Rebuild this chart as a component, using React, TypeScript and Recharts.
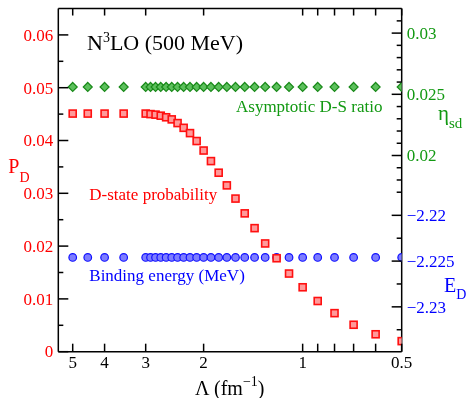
import { ScatterChart, Scatter, XAxis, YAxis } from 'recharts';

const RED = '#ff0000';
const GREEN = '#129912';
const BLUE = '#0000ff';
const SERIF = '"Liberation Serif", "Times New Roman", serif';

// cutoff values (fm^-1)
const lambdas = [
  5, 4.5, 4, 3.5, 3.0, 2.9, 2.8, 2.7, 2.6, 2.5, 2.4, 2.3, 2.2, 2.1, 2.0,
  1.9, 1.8, 1.7, 1.6, 1.5, 1.4, 1.3, 1.2, 1.1, 1.0, 0.9, 0.8, 0.7, 0.6, 0.5,
];
// D-state probability
const pdValues = [
  0.0451, 0.0451, 0.0451, 0.0451, 0.0451, 0.0450, 0.0449, 0.0447, 0.0444, 0.0440,
  0.0433, 0.0424, 0.0414, 0.0399, 0.0381, 0.0361, 0.0339, 0.0315, 0.0290, 0.0262,
  0.0234, 0.0205, 0.0177, 0.0148, 0.0122, 0.0096, 0.0073, 0.0051, 0.0033, 0.0020,
];
// asymptotic D/S ratio
const etaValues = [
  0.0256, 0.0256, 0.0256, 0.0256, 0.0256, 0.0256, 0.0256, 0.0256, 0.0256, 0.0256,
  0.0256, 0.0256, 0.0256, 0.0256, 0.0256, 0.0256, 0.0256, 0.0256, 0.0256, 0.0256,
  0.0256, 0.0256, 0.0256, 0.0256, 0.0256, 0.0256, 0.0256, 0.0256, 0.0256, 0.0256,
];
// binding energy (MeV)
const edValues = [
  -2.2246, -2.2246, -2.2246, -2.2246, -2.2246, -2.2246, -2.2246, -2.2246, -2.2246, -2.2246,
  -2.2246, -2.2246, -2.2246, -2.2246, -2.2246, -2.2246, -2.2246, -2.2246, -2.2246, -2.2246,
  -2.2246, -2.2246, -2.2246, -2.2246, -2.2246, -2.2246, -2.2246, -2.2246, -2.2246, -2.2246,
];

const xTicks = [5, 4, 3, 2, 1, 0.9, 0.8, 0.7, 0.6, 0.5];
const xLabeled = [5, 4, 3, 2, 1, 0.5];
const pdTicks = [0, 0.005, 0.01, 0.015, 0.02, 0.025, 0.03, 0.035, 0.04, 0.045, 0.05, 0.055, 0.06];
const pdMajor = [0, 0.01, 0.02, 0.03, 0.04, 0.05, 0.06];
const etaTicks = [0.017, 0.018, 0.019, 0.02, 0.021, 0.022, 0.023, 0.024, 0.025, 0.026, 0.027, 0.028, 0.029, 0.03, 0.031];
const etaMajor = [0.02, 0.025, 0.03];
const edTicks = [-2.2325, -2.23, -2.2275, -2.225, -2.2225, -2.22];
const edMajor = [-2.23, -2.225, -2.22];

const pdData = lambdas.map((lam, i) => ({ lam, pd: pdValues[i] }));
const etaData = lambdas.map((lam, i) => ({ lam, eta: etaValues[i] }));
const edData = lambdas.map((lam, i) => ({ lam, ed: edValues[i] }));

const has = (list: number[], v: number) => list.some(m => Math.abs(m - v) < 1e-9);

const BottomTick = ({ x, y, payload }: any) => (
  <g>
    <line x1={x} x2={x} y1={y} y2={y - 8} stroke="#000" strokeWidth={1.5} />
    {has(xLabeled, payload.value) && (
      <text x={x} y={y + 16.6} textAnchor="middle" fontSize={17} fontFamily={SERIF} fill="#000">
        {String(payload.value)}
      </text>
    )}
  </g>
);

const TopTick = ({ x, y }: any) => (
  <line x1={x} x2={x} y1={y} y2={y + 7} stroke="#000" strokeWidth={1.5} />
);

const LeftTick = ({ x, y, payload }: any) => {
  const major = has(pdMajor, payload.value);
  return (
    <g>
      <line x1={x} x2={x + (major ? 10 : 5)} y1={y} y2={y} stroke="#000" strokeWidth={1.5} />
      {major && (
        <text x={x - 5} y={y + 5.8} textAnchor="end" fontSize={17} fontFamily={SERIF} fill={RED}>
          {String(payload.value)}
        </text>
      )}
    </g>
  );
};

const makeRightTick = (majors: number[], color: string, fmt: (v: number) => string) =>
  ({ x, y, payload }: any) => {
    const major = has(majors, payload.value);
    return (
      <g>
        <line x1={x} x2={x - (major ? 10 : 5)} y1={y} y2={y} stroke="#000" strokeWidth={1.5} />
        {major && (
          <text x={x + 5} y={y + 5.8} textAnchor="start" fontSize={17} fontFamily={SERIF} fill={color}>
            {fmt(payload.value)}
          </text>
        )}
      </g>
    );
  };

const EtaTick = makeRightTick(etaMajor, GREEN, v => String(v));
const EdTick = makeRightTick(edMajor, BLUE, v => '\u2212' + String(Math.abs(v)));

const SquareMark = ({ cx, cy }: any) => (
  <rect x={cx - 3.5} y={cy - 3.5} width={7} height={7} fill="#ff9a9a" stroke="#ff1010" strokeWidth={1.6} />
);
const CircleMark = ({ cx, cy }: any) => (
  <circle cx={cx} cy={cy} r={3.8} fill="#7d7dff" stroke="#1010ff" strokeWidth={1.2} />
);
const DiamondMark = ({ cx, cy }: any) => (
  <path
    d={`M${cx},${cy - 4.5}L${cx + 4.5},${cy}L${cx},${cy + 4.5}L${cx - 4.5},${cy}Z`}
    fill="#5cc05c"
    stroke="#1a8a1a"
    strokeWidth={1.2}
  />
);

const axisLine = { stroke: '#000', strokeWidth: 1.5 };
const THIN = 0.01;

export default function App() {
  return (
    <div style={{ position: 'fixed', left: 0, top: 0, width: 467, height: 398, fontFamily: SERIF }}>
      <ScatterChart width={467} height={398} margin={{ top: 8.5, right: 65.3, bottom: 46.3, left: 58.3 }}>
        <XAxis
          xAxisId="bottom"
          dataKey="lam"
          type="number"
          scale="log"
          domain={[0.5, 5.53]}
          allowDataOverflow
          reversed
          ticks={xTicks}
          interval={0}
          height={THIN}
          tickSize={0}
          tickMargin={0}
          tickLine={false}
          axisLine={axisLine}
          tick={BottomTick}
        />
        <XAxis
          xAxisId="top"
          orientation="top"
          dataKey="lam"
          type="number"
          scale="log"
          domain={[0.5, 5.53]}
          allowDataOverflow
          reversed
          ticks={xTicks}
          interval={0}
          height={THIN}
          tickSize={0}
          tickMargin={0}
          tickLine={false}
          axisLine={axisLine}
          tick={TopTick}
        />
        <YAxis
          yAxisId="pd"
          dataKey="pd"
          type="number"
          domain={[0, 0.065]}
          allowDataOverflow
          ticks={pdTicks}
          interval={0}
          width={THIN}
          tickSize={0}
          tickMargin={0}
          tickLine={false}
          axisLine={axisLine}
          tick={LeftTick}
        />
        <YAxis
          yAxisId="eta"
          orientation="right"
          dataKey="eta"
          type="number"
          domain={[0.00397, 0.03201]}
          allowDataOverflow
          ticks={etaTicks}
          interval={0}
          width={THIN}
          tickSize={0}
          tickMargin={0}
          tickLine={false}
          axisLine={axisLine}
          tick={EtaTick}
        />
        <YAxis
          yAxisId="ed"
          orientation="right"
          dataKey="ed"
          type="number"
          domain={[-2.2349, -2.1974]}
          allowDataOverflow
          ticks={edTicks}
          interval={0}
          width={THIN}
          tickSize={0}
          tickMargin={0}
          tickLine={false}
          axisLine={false}
          tick={EdTick}
        />
        <Scatter data={edData} xAxisId="bottom" yAxisId="ed" shape={CircleMark} isAnimationActive={false} />
        <Scatter data={etaData} xAxisId="bottom" yAxisId="eta" shape={DiamondMark} isAnimationActive={false} />
        <Scatter data={pdData} xAxisId="bottom" yAxisId="pd" shape={SquareMark} isAnimationActive={false} />
      </ScatterChart>

      {/* titles and annotations */}
      <svg
        width={467}
        height={398}
        style={{ position: 'absolute', left: 0, top: 0, pointerEvents: 'none' }}
        fontFamily={SERIF}
      >
        <text x={87} y={50} fontSize={22} fill="#000">
          N<tspan dy={-8} fontSize={14}>3</tspan>
          <tspan dy={8}>LO (500 MeV)</tspan>
        </text>
        <text x={236} y={111.7} fontSize={17} fill={GREEN}>Asymptotic D-S ratio</text>
        <text x={89.3} y={199.6} fontSize={17} fill={RED}>D-state probability</text>
        <text x={89.3} y={280.6} fontSize={17} fill={BLUE}>Binding energy (MeV)</text>

        <text x={8.3} y={173.3} fontSize={20} fill={RED}>
          P<tspan dy={8.4} fontSize={14}>D</tspan>
        </text>
        <text x={438} y={120} fontSize={21} fill={GREEN}>
          η<tspan dy={7.7} fontSize={15}>sd</tspan>
        </text>
        <text x={444} y={292.3} fontSize={20} fill={BLUE}>
          E<tspan dy={6.7} fontSize={14}>D</tspan>
        </text>
        <text x={195} y={395} fontSize={20} fill="#000">
          Λ (fm<tspan dy={-9} fontSize={14}>−1</tspan>
          <tspan dy={9}>)</tspan>
        </text>
      </svg>
    </div>
  );
}
